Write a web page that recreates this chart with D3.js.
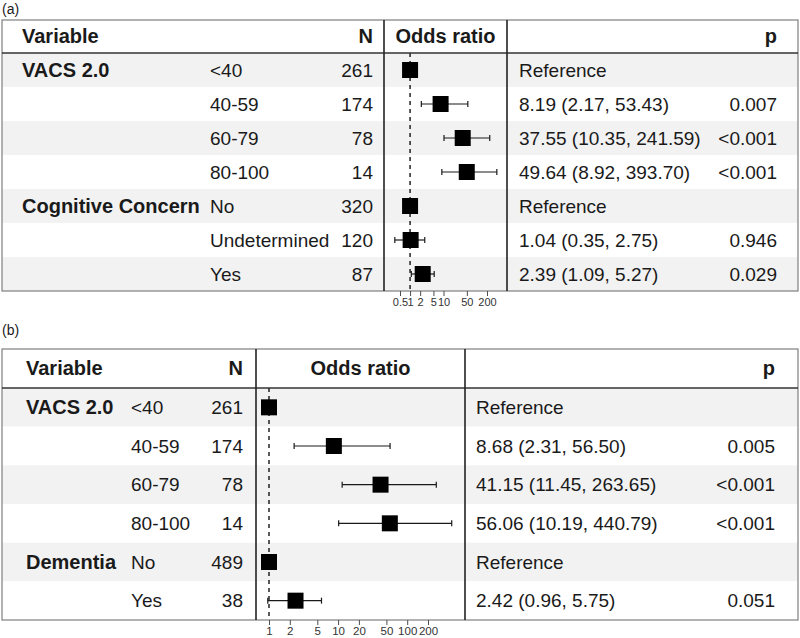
<!DOCTYPE html>
<html>
<head>
<meta charset="utf-8">
<script src="https://cdn.jsdelivr.net/npm/d3@7"></script>
<style>
  body { margin: 0; background: #fff; }
  svg text { font-family: "Liberation Sans", Arial, Helvetica, sans-serif; fill: #1a1a1a; }
</style>
</head>
<body>
<svg id="chart" width="800" height="638"></svg>
<script>
// ---- panel (a) data
var variablesA = ["VACS 2.0", "", "", "", "Cognitive Concern", "", ""];
var levelsA = ["<40", "40-59", "60-79", "80-100", "No", "Undetermined", "Yes"];
var nA = [261, 174, 78, 14, 320, 120, 87];
var orA = [1, 8.19, 37.55, 49.64, 1, 1.04, 2.39];
var loA = [null, 2.17, 10.35, 8.92, null, 0.35, 1.09];
var hiA = [null, 53.43, 241.59, 393.70, null, 2.75, 5.27];
var pA = ["", "0.007", "<0.001", "<0.001", "", "0.946", "0.029"];
var ticksA = [0.5, 1, 2, 5, 10, 50, 200];

// ---- panel (b) data
var variablesB = ["VACS 2.0", "", "", "", "Dementia", ""];
var levelsB = ["<40", "40-59", "60-79", "80-100", "No", "Yes"];
var nB = [261, 174, 78, 14, 489, 38];
var orB = [1, 8.68, 41.15, 56.06, 1, 2.42];
var loB = [null, 2.31, 11.45, 10.19, null, 0.96];
var hiB = [null, 56.50, 263.65, 440.79, null, 5.75];
var pB = ["", "0.005", "<0.001", "<0.001", "", "0.051"];
var ticksB = [1, 2, 5, 10, 20, 50, 100, 200];

var svg = d3.select("#chart");
var fs = 19;     // plain text
var fsBold = 20; // bold headers / variable names

function build(vars, levels, n, or, lo, hi, p) {
  return levels.map(function(l, i) {
    return {variable: vars[i], level: l, n: n[i], or: or[i], lo: lo[i], hi: hi[i], p: p[i]};
  });
}

function drawPanel(cfg, rows, ticks) {
  var g = svg.append("g");

  g.append("text")
    .attr("x", 2).attr("y", cfg.labelY)
    .style("font-size", "14px")
    .text(cfg.label);

  var y = d3.scaleBand()
    .domain(d3.range(rows.length))
    .range([cfg.headBottom, cfg.bottom]);

  var x = d3.scaleLog()
    .domain(cfg.xDomain)
    .range(cfg.xRange);

  // row shading
  g.selectAll(".band").data(rows).enter().append("rect")
    .attr("class", "band")
    .attr("x", 2).attr("width", 796)
    .attr("y", function(d, i) { return y(i); })
    .attr("height", y.bandwidth())
    .attr("fill", function(d, i) { return i % 2 == 0 ? "#f2f2f2" : "#ffffff"; });

  // header text
  var headY = (cfg.top + cfg.headBottom) / 2 + 6.5;
  g.append("text").attr("x", cfg.varX).attr("y", headY)
    .style("font-size", fsBold + "px").style("font-weight", "bold").text("Variable");
  g.append("text").attr("x", cfg.nX).attr("y", headY).attr("text-anchor", "end")
    .style("font-size", fsBold + "px").style("font-weight", "bold").text("N");
  g.append("text").attr("x", (cfg.sep1 + cfg.sep2) / 2).attr("y", headY).attr("text-anchor", "middle")
    .style("font-size", fsBold + "px").style("font-weight", "bold").text("Odds ratio");
  g.append("text").attr("x", cfg.pX).attr("y", headY).attr("text-anchor", "end")
    .style("font-size", fsBold + "px").style("font-weight", "bold").text("p");

  // row text
  var rowY = function(i) { return y(i) + y.bandwidth() / 2 + 6.5; };

  g.selectAll(".varText").data(rows).enter().append("text")
    .attr("x", cfg.varX).attr("y", function(d, i) { return rowY(i); })
    .style("font-size", fsBold + "px").style("font-weight", "bold")
    .text(function(d) { return d.variable; });

  g.selectAll(".lvlText").data(rows).enter().append("text")
    .attr("x", cfg.lvlX).attr("y", function(d, i) { return rowY(i); })
    .style("font-size", fs + "px")
    .text(function(d) { return d.level; });

  g.selectAll(".nText").data(rows).enter().append("text")
    .attr("x", cfg.nX).attr("y", function(d, i) { return rowY(i); })
    .attr("text-anchor", "end")
    .style("font-size", fs + "px")
    .text(function(d) { return d.n; });

  g.selectAll(".orText").data(rows).enter().append("text")
    .attr("x", cfg.orX).attr("y", function(d, i) { return rowY(i); })
    .style("font-size", fs + "px")
    .text(function(d) {
      if (d.lo == null) return "Reference";
      return d.or.toFixed(2) + " (" + d.lo.toFixed(2) + ", " + d.hi.toFixed(2) + ")";
    });

  g.selectAll(".pText").data(rows).enter().append("text")
    .attr("x", cfg.pX).attr("y", function(d, i) { return rowY(i); })
    .attr("text-anchor", "end")
    .style("font-size", fs + "px")
    .text(function(d) { return d.p; });

  // reference line at OR = 1
  g.append("line")
    .attr("x1", x(1)).attr("x2", x(1))
    .attr("y1", cfg.headBottom).attr("y2", cfg.bottom)
    .attr("stroke", "#000").attr("stroke-width", 1.3)
    .attr("stroke-dasharray", "4,4");

  // confidence intervals
  var ciG = g.selectAll(".ci").data(rows).enter().append("g")
    .attr("class", "ci")
    .attr("transform", function(d, i) { return "translate(0," + (y(i) + y.bandwidth() / 2) + ")"; })
    .filter(function(d) { return d.lo != null; });

  ciG.append("line")
    .attr("x1", function(d) { return x(d.lo); })
    .attr("x2", function(d) { return x(d.hi); })
    .attr("stroke", "#1a1a1a").attr("stroke-width", 1.2);
  ciG.append("line")
    .attr("x1", function(d) { return x(d.lo); })
    .attr("x2", function(d) { return x(d.lo); })
    .attr("y1", -3).attr("y2", 3)
    .attr("stroke", "#1a1a1a").attr("stroke-width", 1.2);
  ciG.append("line")
    .attr("x1", function(d) { return x(d.hi); })
    .attr("x2", function(d) { return x(d.hi); })
    .attr("y1", -3).attr("y2", 3)
    .attr("stroke", "#1a1a1a").attr("stroke-width", 1.2);

  // point estimates
  g.selectAll(".pt").data(rows).enter().append("rect")
    .attr("class", "pt")
    .attr("x", function(d) { return x(d.or) - 8; })
    .attr("y", function(d, i) { return y(i) + y.bandwidth() / 2 - 8; })
    .attr("width", 16).attr("height", 16)
    .attr("fill", "#000");

  // table lines
  g.append("rect")
    .attr("x", 2).attr("y", cfg.top)
    .attr("width", 796).attr("height", cfg.bottom - cfg.top)
    .attr("fill", "none").attr("stroke", "#7f7f7f").attr("stroke-width", 1.2);
  g.append("line")
    .attr("x1", 2).attr("x2", 798)
    .attr("y1", cfg.headBottom).attr("y2", cfg.headBottom)
    .attr("stroke", "#333").attr("stroke-width", 1.5);
  [cfg.sep1, cfg.sep2].forEach(function(sx) {
    g.append("line")
      .attr("x1", sx).attr("x2", sx)
      .attr("y1", cfg.top).attr("y2", cfg.bottom)
      .attr("stroke", "#222").attr("stroke-width", 1.6);
  });

  // log axis
  var axis = g.append("g")
    .attr("transform", "translate(0," + cfg.bottom + ")")
    .call(d3.axisBottom(x).tickValues(ticks).tickFormat(d3.format("")).tickSize(5).tickPadding(2));
  axis.select(".domain").remove();
  axis.selectAll(".tick line").attr("stroke", "#4d4d4d");
  axis.selectAll(".tick text")
    .attr("fill", "#333")
    .style("font-size", cfg.tickFs + "px")
    .style("fill", "#333");
}

drawPanel({
  label: "(a)", labelY: 14,
  top: 20, headBottom: 53, bottom: 291,
  varX: 22, lvlX: 210, nX: 373, sep1: 384, sep2: 507, orX: 519, pX: 777,
  xDomain: [0.5, 200], xRange: [400, 487], tickFs: 11
}, build(variablesA, levelsA, nA, orA, loA, hiA, pA), ticksA);

drawPanel({
  label: "(b)", labelY: 335,
  top: 349, headBottom: 388, bottom: 620,
  varX: 26, lvlX: 131, nX: 243, sep1: 256, sep2: 465, orX: 476, pX: 775,
  xDomain: [1, 200], xRange: [269, 428], tickFs: 11.5
}, build(variablesB, levelsB, nB, orB, loB, hiB, pB), ticksB);
</script>
</body>
</html>
